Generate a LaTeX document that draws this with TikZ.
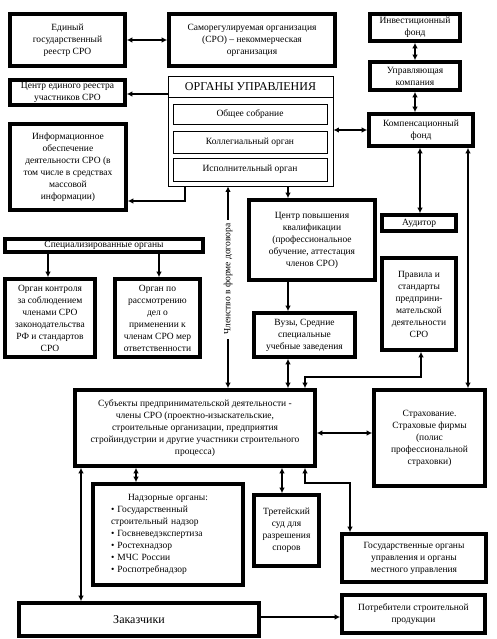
\documentclass[tikz,border=0pt]{standalone}
\usepackage{fontspec}
\setmainfont{Liberation Serif}
\usetikzlibrary{arrows.meta,calc}
\tikzset{
  box/.style={draw=black, line width=3.6pt, align=center, inner sep=1pt, font=\fontsize{9.5}{12}\selectfont},
  inbox/.style={draw=black, line width=0.8pt, align=center, inner sep=1pt, font=\fontsize{9.5}{12}\selectfont},
  sz/.style 2 args={minimum width=#1pt, minimum height=#2pt},
  arr/.style={draw=black, line width=2pt, -{Latex[length=5.5pt,width=5.5pt]}},
  darr/.style={draw=black, line width=2pt, {Latex[length=5.5pt,width=5.5pt]}-{Latex[length=5.5pt,width=5.5pt]}},
  lab/.style={font=\fontsize{9.5}{12}\selectfont},
}
\begin{document}
\begin{tikzpicture}[x=1pt, y=-1pt]
  \useasboundingbox[fill=white] (0,0) rectangle (496,639);
  % top row
  \node[box, sz={115}{52}] (reestr) at (67.5,40) {Единый\\государственный\\реестр СРО};
  \node[box, sz={166}{52}] (sro) at (252,40) {Саморегулируемая организация\\(СРО) -- некоммерческая\\организация};
  \node[box, sz={90}{27}] (invest) at (415,27.5) {Инвестиционный\\фонд};
  \node[box, sz={90}{28}] (uprav) at (415,76) {Управляющая\\компания};
  \node[box, sz={104}{32}] (komp) at (421,130) {Компенсационный\\фонд};
  % governing bodies
  \node[inbox, sz={165}{110}] (organy) at (250.5,131) {};
  \node[font=\fontsize{12}{14}\selectfont] (orgtitle) at (250.5,86.5) {ОРГАНЫ УПРАВЛЕНИЯ};
  \draw[inbox] (organy.west |- 0,97) -- (organy.east |- 0,97);
  \node[inbox, sz={154}{20}] (obsh) at (250,114) {Общее собрание};
  \node[inbox, sz={154}{22}] (koll) at (250,142) {Коллегиальный орган};
  \node[inbox, sz={154}{23}] (isp) at (250,169.5) {Исполнительный орган};
  % left column
  \node[box, sz={115}{25}] (creestr) at (67.5,92.5) {Центр единого реестра\\участников СРО};
  \node[box, sz={116}{86}] (info) at (68,167) {Информационное\\обеспечение\\деятельности СРО (в\\том числе в средствах\\массовой\\информации)};
  \node[box, sz={198}{13}] (spec) at (104,245.5) {Специализированные органы};
  \node[box, sz={90}{78}] (kontrol) at (50,318) {Орган контроля\\за соблюдением\\членами СРО\\законодательства\\РФ и стандартов\\СРО};
  \node[box, sz={85}{78}] (rassm) at (157.5,318) {Орган по\\рассмотрению\\дел о\\применении к\\членам СРО мер\\ответственности};
  % middle and right
  \node[box, sz={126}{80}] (povysh) at (312,240) {Центр повышения\\квалификации\\(профессиональное\\обучение, аттестация\\членов СРО)};
  \node[box, sz={74}{16}] (auditor) at (419,223) {Аудитор};
  \node[box, sz={74}{92}] (pravila) at (419,304) {Правила и\\стандарты\\предприни-\\мательской\\деятельности\\СРО};
  \node[box, sz={101}{44}] (vuzy) at (304.5,335) {Вузы, Средние\\специальные\\учебные заведения};
  \node[box, sz={240}{76}] (subj) at (195,428) {Субъекты предпринимательской деятельности -\\члены СРО (проектно-изыскательские,\\строительные организации, предприятия\\стройиндустрии и другие участники строительного\\процесса)};
  \node[box, sz={111}{96}] (strah) at (429.5,438) {Страхование.\\Страховые фирмы\\(полис\\профессиональной\\страховки)};
  % bottom
  \node[box, sz={150}{101}, text width=114pt, align=left] (nadzor) at (168,534.5) {{\centering Надзорные органы:\par}\textbullet~Государственный\\строительный надзор\\\textbullet~Госвневедэкспертиза\\\textbullet~Ростехнадзор\\\textbullet~МЧС России\\\textbullet~Роспотребнадзор};
  \node[box, sz={65}{71}] (treteisk) at (286.5,530.5) {Третейский\\суд для\\разрешения\\споров};
  \node[box, sz={144}{48}] (gos) at (414,558) {Государственные органы\\управления и органы\\местного управления};
  \node[box, sz={143}{38}] (potreb) at (413.5,614) {Потребители строительной\\продукции};
  \node[box, sz={240}{33}, font=\fontsize{12}{14}\selectfont] (zakaz) at (139,619.5) {Заказчики};
  % connectors
  \draw[darr] (reestr) -- (sro);
  \draw[darr] (invest) -- (uprav);
  \draw[darr] (uprav.south) -- (uprav.south |- komp.north);
  \draw[darr] (komp.west -| organy.east) -- (komp.west);
  \draw[arr] (organy.west |- 0,94) -- (creestr.east |- 0,94);
  \draw[arr] (organy.south -| 185,0) |- (info.east |- 0,201);
  \draw[darr] (organy.south -| 228,0) -- node[lab, pos=0.46, rotate=90, fill=white, inner sep=4pt] (chlen) {Членство в форме договора} (subj.north -| 228,0);
  \draw[arr] (organy.south -| 288,0) -- (povysh.north -| 288,0);
  \draw[arr] (povysh.south -| 288,0) -- (vuzy.north -| 288,0);
  \draw[darr] (vuzy.south -| 288,0) -- (subj.north -| 288,0);
  \draw[darr] (subj.north -| 305,0) -- (305,377) -| (pravila.south -| 421,0);
  \draw[darr] (komp.south -| 420,0) -- (auditor.north -| 420,0);
  \draw[darr] (komp.south -| 468,0) -- (strah.north -| 468,0);
  \draw[darr] (subj.east |- 0,433) -- (strah.west |- 0,433);
  \foreach \x/\y in {48/kontrol, 159/rassm}
    \draw[arr] (spec.south -| \x,0) -- (\y.north -| \x,0);
  \draw[darr] (subj.south -| 81,0) -- (zakaz.north -| 81,0);
  \draw[darr] (subj.south -| 136,0) -- (nadzor.north -| 136,0);
  \draw[darr] (subj.south -| 282,0) -- (treteisk.north -| 282,0);
  \draw[darr] (subj.south -| 305,0) -- (305,483) -| (gos.north -| 350,0);
  \draw[arr] (zakaz.east |- 0,617) -- (potreb.west |- 0,617);
\end{tikzpicture}
\end{document}
